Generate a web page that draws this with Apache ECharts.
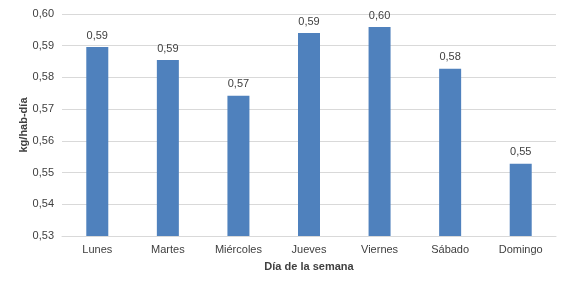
<!DOCTYPE html>
<html>
<head>
<meta charset="utf-8">
<script src="https://cdn.jsdelivr.net/npm/echarts@6/dist/echarts.min.js"></script>
<style>
  html, body { margin: 0; padding: 0; background: #fff; }
  #chart { width: 570px; height: 288px; }
</style>
</head>
<body>
<div id="chart"></div>
<script>
// dias y consumo (kg/hab-dia)
const days = ['Lunes', 'Martes', 'Miércoles', 'Jueves', 'Viernes', 'Sábado', 'Domingo']
const values = [0.5896, 0.5855, 0.5742, 0.5940, 0.5959, 0.5827, 0.5528]

const fmt = v => v.toFixed(2).replace('.', ',')
const font = 'Liberation Sans, Arial, sans-serif'

const myChart = echarts.init(document.getElementById('chart'))
myChart.setOption({
  animation: false,
  textStyle: {fontFamily: font},
  grid: {left: 62, right: 14, top: 14, bottom: 52},
  xAxis: {
    type: 'category',
    data: days,
    name: 'Día de la semana',
    nameLocation: 'middle',
    nameGap: 25,
    nameTextStyle: {fontWeight: 'bold', fontSize: 11, color: '#404040', fontFamily: font},
    axisLine: {lineStyle: {color: '#d9d9d9'}},
    axisTick: {show: false},
    axisLabel: {color: '#404040', fontSize: 11, margin: 8, fontFamily: font},
  },
  yAxis: {
    type: 'value',
    min: 0.53,
    max: 0.60,
    interval: 0.01,
    name: 'kg/hab-día',
    nameLocation: 'middle',
    nameGap: 33,
    nameMoveOverlap: false,
    nameTextStyle: {fontWeight: 'bold', fontSize: 11, color: '#404040', fontFamily: font},
    axisLine: {show: false},
    axisTick: {show: false},
    axisLabel: {color: '#404040', fontSize: 11, margin: 8, formatter: v => fmt(v), fontFamily: font},
    splitLine: {lineStyle: {color: '#d9d9d9'}},
  },
  series: [{
    type: 'bar',
    data: values,
    barWidth: 22,
    itemStyle: {color: '#4f81bd'},
    label: {
      show: true,
      position: 'top',
      distance: 6,
      color: '#404040',
      fontSize: 11,
      fontFamily: font,
      formatter: p => fmt(p.value),
    },
  }],
})
</script>
</body>
</html>
